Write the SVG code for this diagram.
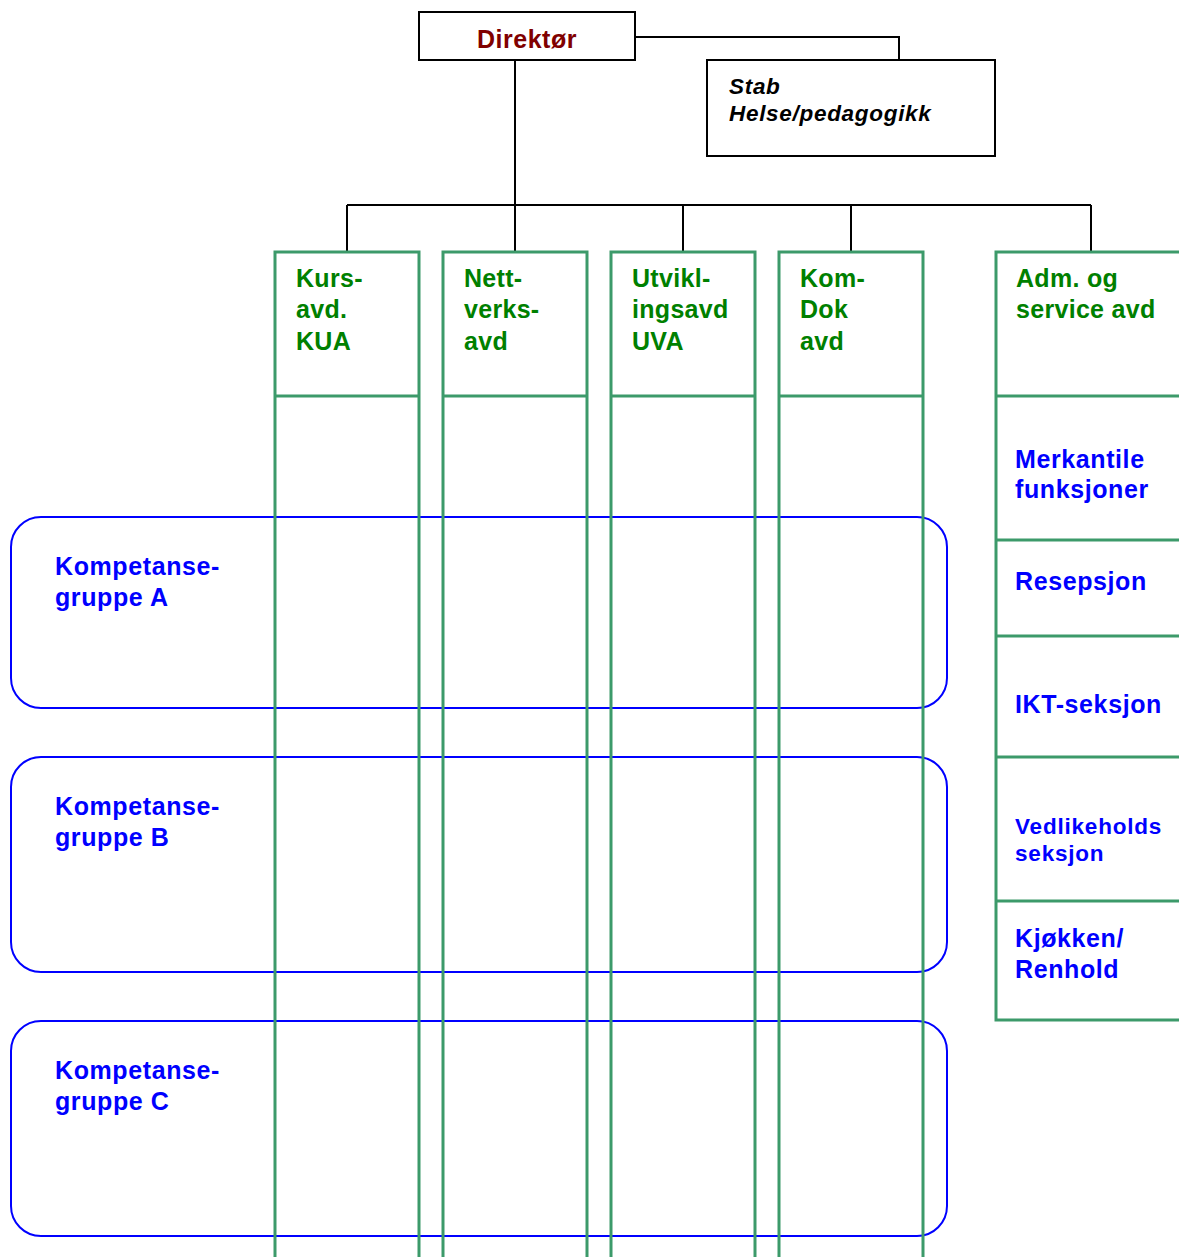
<svg xmlns="http://www.w3.org/2000/svg" width="1179" height="1257" viewBox="0 0 1179 1257">
<style>
text{font-family:"Liberation Sans",Arial,sans-serif;font-weight:bold}
.box{fill:#fff;stroke:#000;stroke-width:2}
.conn{fill:none;stroke:#000;stroke-width:2}
.grp{fill:#fff;stroke:#0000ff;stroke-width:2}
.col{fill:none;stroke:#3c9a6a;stroke-width:3}
.g{fill:#008000;font-size:25px;letter-spacing:0.3px}
.b{fill:#0000ff;font-size:25px;letter-spacing:0.6px}
.bs{fill:#0000ff;font-size:22.5px;letter-spacing:0.8px}
.dir{fill:#800000;font-size:25px;letter-spacing:0.5px}
.stab{fill:#000;font-size:22.5px;font-style:italic;letter-spacing:0.7px}
</style>
<rect width="1179" height="1257" fill="#fff"/>
<g id="connectors">
<polyline class="conn" points="635,37 899,37 899,60"/>
<line class="conn" x1="515" y1="60" x2="515" y2="205"/>
<line class="conn" x1="347" y1="205" x2="1091" y2="205"/>
<line class="conn" x1="347" y1="205" x2="347" y2="252"/>
<line class="conn" x1="515" y1="205" x2="515" y2="252"/>
<line class="conn" x1="683" y1="205" x2="683" y2="252"/>
<line class="conn" x1="851" y1="205" x2="851" y2="252"/>
<line class="conn" x1="1091" y1="205" x2="1091" y2="252"/>
</g>
<g id="direktor">
<rect class="box" x="419" y="12" width="216" height="48"/>
<text class="dir" x="527" y="48" text-anchor="middle">Direktør</text>
</g>
<g id="stab">
<rect class="box" x="707" y="60" width="288" height="96"/>
<text class="stab" x="729" y="94">Stab</text>
<text class="stab" x="729" y="121">Helse/pedagogikk</text>
</g>
<g id="gruppe-a">
<rect class="grp" x="11" y="517" width="936" height="191" rx="30"/>
<text class="b" x="55" y="575">Kompetanse-</text>
<text class="b" x="55" y="606">gruppe A</text>
</g>
<g id="gruppe-b">
<rect class="grp" x="11" y="757" width="936" height="215" rx="30"/>
<text class="b" x="55" y="815">Kompetanse-</text>
<text class="b" x="55" y="846">gruppe B</text>
</g>
<g id="gruppe-c">
<rect class="grp" x="11" y="1021" width="936" height="215" rx="30"/>
<text class="b" x="55" y="1079">Kompetanse-</text>
<text class="b" x="55" y="1110">gruppe C</text>
</g>
<g id="kua">
<polyline class="col" points="275,1260 275,252 419,252 419,1260"/>
<line class="col" x1="275" y1="396" x2="419" y2="396"/>
<text class="g" x="296" y="287">Kurs-</text>
<text class="g" x="296" y="318">avd.</text>
<text class="g" x="296" y="350">KUA</text>
</g>
<g id="nettverk">
<polyline class="col" points="443,1260 443,252 587,252 587,1260"/>
<line class="col" x1="443" y1="396" x2="587" y2="396"/>
<text class="g" x="464" y="287">Nett-</text>
<text class="g" x="464" y="318">verks-</text>
<text class="g" x="464" y="350">avd</text>
</g>
<g id="uva">
<polyline class="col" points="611,1260 611,252 755,252 755,1260"/>
<line class="col" x1="611" y1="396" x2="755" y2="396"/>
<text class="g" x="632" y="287">Utvikl-</text>
<text class="g" x="632" y="318">ingsavd</text>
<text class="g" x="632" y="350">UVA</text>
</g>
<g id="komdok">
<polyline class="col" points="779,1260 779,252 923,252 923,1260"/>
<line class="col" x1="779" y1="396" x2="923" y2="396"/>
<text class="g" x="800" y="287">Kom-</text>
<text class="g" x="800" y="318">Dok</text>
<text class="g" x="800" y="350">avd</text>
</g>
<g id="adm">
<polyline class="col" points="1182,252 996,252 996,1020 1182,1020"/>
<line class="col" x1="996" y1="396" x2="1182" y2="396"/>
<line class="col" x1="996" y1="540" x2="1182" y2="540"/>
<line class="col" x1="996" y1="636" x2="1182" y2="636"/>
<line class="col" x1="996" y1="757" x2="1182" y2="757"/>
<line class="col" x1="996" y1="901" x2="1182" y2="901"/>
<text class="g" x="1016" y="287">Adm. og</text>
<text class="g" x="1016" y="318">service avd</text>
</g>
<g id="merkantile">
<text class="b" x="1015" y="468">Merkantile</text>
<text class="b" x="1015" y="498">funksjoner</text>
</g>
<g id="resepsjon">
<text class="b" x="1015" y="590">Resepsjon</text>
</g>
<g id="ikt">
<text class="b" x="1015" y="713">IKT-seksjon</text>
</g>
<g id="vedlikehold">
<text class="bs" x="1015" y="834">Vedlikeholds</text>
<text class="bs" x="1015" y="861">seksjon</text>
</g>
<g id="kjokken">
<text class="b" x="1015" y="947">Kjøkken/</text>
<text class="b" x="1015" y="978">Renhold</text>
</g>
</svg>
